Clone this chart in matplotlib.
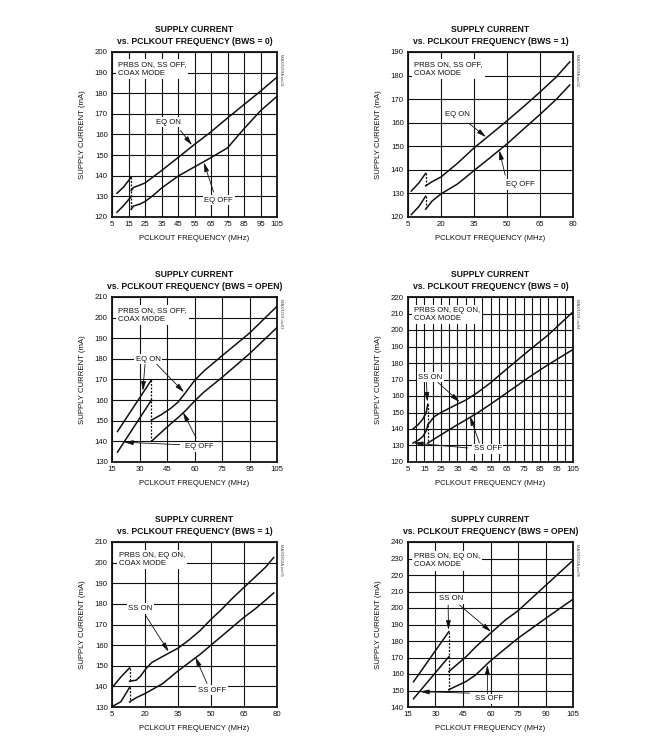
import matplotlib
matplotlib.use("Agg")
import matplotlib.pyplot as plt
from matplotlib import font_manager

# ------------------------------------------------------
# Data (MHz / mA)
# ------------------------------------------------------
# Panel 1: BWS = 0, EQ ON / EQ OFF
p1_x_a = [8, 12, 16.5]
p1_eqon_a = [131.5, 134.5, 139.2]
p1_eqoff_a = [122.3, 125.5, 129.8]
p1_x_b = [16.6, 18, 22, 25, 30, 35, 45, 55, 65, 75, 85, 95, 105]
p1_eqon_b = [132.8, 134.3, 135.5, 136.5, 139.5, 142.5, 148.8, 155.2, 161.3, 168, 174.5, 181, 187.8]
p1_eqoff_b = [123.7, 125.3, 126.3, 127.5, 130.5, 134, 139.8, 144.3, 148.8, 153.5, 162.8, 171.5, 178.5]

# Panel 2: BWS = 1, EQ ON / EQ OFF
p2_x_a = [6.5, 10, 13]
p2_eqon_a = [131, 134.5, 138.5]
p2_eqoff_a = [121, 124.5, 128.8]
p2_x_b = [13, 16, 20, 27.5, 35, 42.5, 50, 57.5, 65, 72.5, 78.5]
p2_eqon_b = [133.2, 135, 137, 142.8, 149.3, 155, 160.8, 166.8, 173, 179.5, 185.8]
p2_eqoff_b = [123.3, 126.8, 129.8, 134, 139.7, 145.3, 151, 157.3, 163.5, 170, 176]

# Panel 3: BWS = OPEN, EQ ON / EQ OFF
p3_x_a = [18, 36.5]
p3_eqon_a = [144.8, 169.8]
p3_eqoff_a = [134.8, 160]
p3_x_b = [36.5, 42, 47, 51, 55, 60, 65, 75, 90, 105]
p3_eqon_b = [150.3, 153, 156, 159, 163.5, 169.5, 174, 181.5, 192.5, 205.5]
p3_eqoff_b = [140, 144.5, 148.5, 151.5, 154.8, 159.5, 163.8, 171, 182.5, 195.2]

# Panel 4: BWS = 0, SS ON / SS OFF
p4_x_a = [8, 11, 14, 16, 17]
p4_sson_a = [140, 142.5, 146, 150, 155]
p4_ssoff_a = [131.5, 133, 135.5, 138.8, 142.3]
p4_x_b = [17, 21, 25, 34, 40, 47, 55, 65, 80, 90, 105]
p4_sson_b = [142.5, 147.6, 150, 154.6, 157.5, 162, 168, 176.5, 189, 197, 211]
p4_ssoff_b = [131.5, 134, 136.5, 142, 145.5, 149.7, 155, 162, 172.5, 179, 188.2]

# Panel 5: BWS = 1, SS ON / SS OFF
p5_x_a = [5.5, 9, 13]
p5_sson_a = [140, 144.5, 149]
p5_ssoff_a = [130.5, 132.5, 139.5]
p5_x_b = [13, 16, 18, 20, 23, 28, 35, 40, 45, 50, 55, 60, 65, 70, 75, 78.5]
p5_sson_b = [142.5, 143, 145, 148, 151.5, 154.5, 158.5, 162.5, 167, 172.5, 177.5, 183, 188, 193, 198, 202.5]
p5_ssoff_b = [132.5, 134.5, 135.5, 136.5, 138.3, 141.3, 147.5, 151.5, 155.5, 160, 164.5, 169, 173.5, 177.5, 182, 185.3]

# Panel 6: BWS = OPEN, SS ON / SS OFF
p6_x_a = [18, 37.3]
p6_sson_a = [155.3, 185.7]
p6_ssoff_a = [145, 170.5]
p6_x_b = [37.3, 46.7, 52, 59.5, 68.4, 74.8, 90.2, 105]
p6_sson_b = [161.5, 170.5, 176.5, 184.2, 193, 198.1, 213.8, 228.9]
p6_ssoff_b = [150.5, 155.5, 159.5, 167.5, 175.7, 181.5, 193.8, 205.3]

# Axis ticks and titles
titles = ["vs. PCLKOUT FREQUENCY (BWS = 0)", "vs. PCLKOUT FREQUENCY (BWS = 1)",
          "vs. PCLKOUT FREQUENCY (BWS = OPEN)", "vs. PCLKOUT FREQUENCY (BWS = 0)",
          "vs. PCLKOUT FREQUENCY (BWS = 1)", "vs. PCLKOUT FREQUENCY (BWS = OPEN)"]
notes = ["PRBS ON, SS OFF,\nCOAX MODE"] * 3 + ["PRBS ON, EQ ON,\nCOAX MODE"] * 3
toc_codes = ["MAX9259A toc01", "MAX9259A toc02", "MAX9259 toc03",
             "MAX9259 toc04", "MAX9259A toc05", "MAX9259A toc06"]
xticks_a = [5, 15, 25, 35, 45, 55, 65, 75, 85, 95, 105]
xticks_b = [5, 20, 35, 50, 65, 80]
xticks_c = [15, 30, 45, 60, 75, 90, 105]
xlabels_c3 = ["15", "30", "45", "60", "75", "95", "105"]
xlabels_c6 = ["15", "30", "45", "60", "75", "90", "105"]

# ------------------------------------------------------
# Fonts
# ------------------------------------------------------
names = {f.name for f in font_manager.fontManager.ttflist}
if "Liberation Sans Narrow" in names:
    plt.rcParams["font.family"] = ["Liberation Sans Narrow", "DejaVu Sans"]
    FS = 6.5
else:
    plt.rcParams["font.family"] = ["Liberation Sans", "DejaVu Sans"]
    FS = 5.6

INK = "#111111"
ARROW = dict(arrowstyle="-|>,head_length=0.55,head_width=0.14", lw=0.6,
             color=INK, shrinkA=0, shrinkB=0, mutation_scale=10)


def dibujar_panel(ax, title, xlim, ylim, xticks, xgrid, xlabels, segs, drops,
                  note, note_xy, labels, toc):
    ax.set_xlim(*xlim)
    ax.set_ylim(*ylim)
    ax.set_xticks(xticks)
    ax.set_xticklabels(xlabels if xlabels else [str(v) for v in xticks])
    ax.set_xticks(xgrid, minor=True)
    yt = list(range(ylim[0], ylim[1] + 1, 10))
    ax.set_yticks(yt)
    ax.grid(True, which="both", color=INK, lw=0.8)
    ax.set_axisbelow(True)
    ax.tick_params(which="both", length=0, labelsize=FS, pad=3, colors=INK)
    for s in ax.spines.values():
        s.set_linewidth(1.3)
        s.set_color(INK)

    ax.set_title("SUPPLY CURRENT\n" + title, fontsize=FS + 0.6, fontweight="bold",
                 pad=6, linespacing=1.35, color=INK)
    ax.set_xlabel("PCLKOUT FREQUENCY (MHz)", fontsize=FS, labelpad=5, color=INK)
    ax.set_ylabel("SUPPLY CURRENT (mA)", fontsize=FS, labelpad=6, color=INK)

    # curves
    for x, y in segs:
        ax.plot(x, y, color=INK, lw=1.1, zorder=3)
    for (x0, y0), (x1, y1) in drops:
        ax.plot([x0, x1], [y0, y1], color=INK, lw=0.9, ls=(0, (1.6, 1.2)), zorder=3)

    # note box
    ax.text(note_xy[0], note_xy[1], note, fontsize=FS, ha="left", va="center",
            linespacing=1.25, color=INK, zorder=5,
            bbox=dict(fc="white", ec="none", pad=1.5))

    # curve labels with arrows
    for txt, txy, arrows in labels:
        for tail, head in arrows:
            ax.annotate("", xy=head, xytext=tail, arrowprops=ARROW, zorder=4)
        ax.text(txy[0], txy[1], txt, fontsize=FS, ha="center", va="center",
                color=INK, zorder=5, bbox=dict(fc="white", ec="none", pad=1.2))

    ax.text(1.012, 0.99, toc, transform=ax.transAxes, rotation=270, fontsize=3,
            ha="left", va="top", color="#444444")


fig = plt.figure(figsize=(6.47, 7.49), dpi=100)
W, H = 165 / 647, 165 / 749
lefts = [112 / 647, 408 / 647]
bottoms = [1 - 217 / 749, 1 - 462 / 749, 1 - 707 / 749]

# ------------------------------------------------------
# Panel 1
# ------------------------------------------------------
ax = fig.add_axes([lefts[0], bottoms[0], W, H])
dibujar_panel(ax, titles[0], (5, 105), (120, 200), xticks_a, range(5, 106, 10), None,
              [(p1_x_a, p1_eqon_a), (p1_x_a, p1_eqoff_a), (p1_x_b, p1_eqon_b), (p1_x_b, p1_eqoff_b)],
              [((p1_x_a[-1], p1_eqon_a[-1]), (p1_x_a[-1], p1_eqoff_b[0]))],
              notes[0], (8.5, 191.8),
              [("EQ ON", (39.3, 166), [((46.4, 162), (53.5, 154.8))]),
               ("EQ OFF", (69.6, 128.1), [((66.6, 132.1), (60.6, 146.5))])],
              toc_codes[0])

# ------------------------------------------------------
# Panel 2
# ------------------------------------------------------
ax = fig.add_axes([lefts[1], bottoms[0], W, H])
dibujar_panel(ax, titles[1], (5, 80), (120, 190), xticks_b, xticks_b, None,
              [(p2_x_a, p2_eqon_a), (p2_x_a, p2_eqoff_a), (p2_x_b, p2_eqon_b), (p2_x_b, p2_eqoff_b)],
              [((p2_x_a[-1], p2_eqon_a[-1]), (p2_x_b[0], p2_eqon_b[0])),
               ((p2_x_a[-1], p2_eqoff_a[-1]), (p2_x_b[0], p2_eqoff_b[0]))],
              notes[1], (7.8, 182.8),
              [("EQ ON", (27.6, 163.5), [((32.9, 159.6), (40.5, 153.9))]),
               ("EQ OFF", (56.3, 133.8), [((49.2, 137.7), (46.5, 148.3))])],
              toc_codes[1])

# ------------------------------------------------------
# Panel 3
# ------------------------------------------------------
ax = fig.add_axes([lefts[0], bottoms[1], W, H])
dibujar_panel(ax, titles[2], (15, 105), (130, 210), xticks_c, xticks_c, xlabels_c3,
              [(p3_x_a, p3_eqon_a), (p3_x_a, p3_eqoff_a), (p3_x_b, p3_eqon_b), (p3_x_b, p3_eqoff_b)],
              [((p3_x_a[-1], p3_eqon_a[-1]), (p3_x_b[0], p3_eqoff_b[0]))],
              notes[2], (18.3, 201.3),
              [("EQ ON", (34.8, 179.8), [((33, 177.3), (31.8, 164.5)), ((38.4, 178.3), (54.3, 163.8))]),
               ("EQ OFF", (62.7, 137.3), [((52, 138.4), (21.5, 139.6)), ((60.9, 141.7), (53.7, 154.2))])],
              toc_codes[2])

# ------------------------------------------------------
# Panel 4
# ------------------------------------------------------
ax = fig.add_axes([lefts[1], bottoms[1], W, H])
dibujar_panel(ax, titles[3], (5, 105), (120, 220), xticks_a, range(5, 106, 5), None,
              [(p4_x_a, p4_sson_a), (p4_x_a, p4_ssoff_a), (p4_x_b, p4_sson_b), (p4_x_b, p4_ssoff_b)],
              [((p4_x_a[-1], p4_sson_a[-1]), (p4_x_b[0], p4_ssoff_b[0]))],
              notes[3], (8.5, 209.5),
              [("SS ON", (18.7, 171.3), [((16.2, 168.5), (16.7, 156.5)), ((23.1, 168.3), (36.3, 156.3))]),
               ("SS OFF", (53.3, 128), [((41.2, 128.5), (8.5, 131.5)), ((48.3, 131.5), (42.5, 147.8))])],
              toc_codes[3])

# ------------------------------------------------------
# Panel 5
# ------------------------------------------------------
ax = fig.add_axes([lefts[0], bottoms[2], W, H])
dibujar_panel(ax, titles[4], (5, 80), (130, 210), xticks_b, xticks_b, None,
              [(p5_x_a, p5_sson_a), (p5_x_a, p5_ssoff_a), (p5_x_b, p5_sson_b), (p5_x_b, p5_ssoff_b)],
              [((p5_x_a[-1], p5_sson_a[-1]), (p5_x_b[0], p5_sson_b[0])),
               ((p5_x_a[-1], p5_ssoff_a[-1]), (p5_x_b[0], p5_ssoff_b[0]))],
              notes[4], (8.3, 201.5),
              [("SS ON", (17.9, 177.7), [((20.2, 174.5), (30.8, 156.8))]),
               ("SS OFF", (50.5, 138.1), [((48.2, 141.4), (42.9, 154.2))])],
              toc_codes[4])

# ------------------------------------------------------
# Panel 6
# ------------------------------------------------------
ax = fig.add_axes([lefts[1], bottoms[2], W, H])
dibujar_panel(ax, titles[5], (15, 105), (140, 240), xticks_c, xticks_c, xlabels_c6,
              [(p6_x_a, p6_sson_a), (p6_x_a, p6_ssoff_a), (p6_x_b, p6_sson_b), (p6_x_b, p6_ssoff_b)],
              [((p6_x_a[-1], p6_sson_a[-1]), (p6_x_b[0], p6_ssoff_b[0]))],
              notes[5], (18.3, 228.6),
              [("SS ON", (38.5, 205.8), [((36.9, 201.8), (37.1, 186.7)), ((43.1, 201.8), (60.3, 185.6))]),
               ("SS OFF", (59.4, 145), [((48.5, 148.4), (21.5, 149.3)), ((58.3, 147.8), (58.3, 165.6))])],
              toc_codes[5])

fig.savefig("out.png", dpi=100)
